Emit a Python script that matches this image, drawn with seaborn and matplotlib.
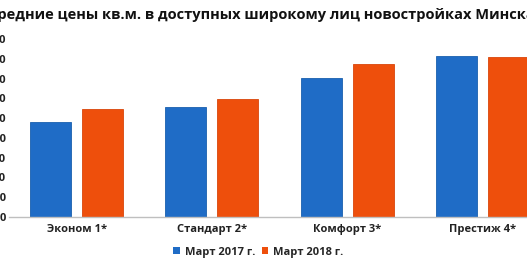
import matplotlib
matplotlib.use("Agg")
import matplotlib.pyplot as plt
import seaborn as sns
import pandas as pd
from matplotlib.patches import Patch

categories = ["Эконом 1*", "Стандарт 2*", "Комфорт 3*", "Престиж 4*"]
series_names = ["Март 2017 г.", "Март 2018 г."]
values_2017 = [965, 1110, 1405, 1633]
values_2018 = [1097, 1192, 1549, 1613]
y_ticks = [0, 200, 400, 600, 800, 1000, 1200, 1400, 1600, 1800]
title = "Средние цены кв.м. в доступных широкому лиц новостройках Минска"

df = pd.DataFrame({
    "cat": categories * 2,
    "series": [series_names[0]] * 4 + [series_names[1]] * 4,
    "value": values_2017 + values_2018,
})

sns.set_theme(style="white")
plt.rcParams['font.family'] = ['Open Sans', 'DejaVu Sans']

W, H = 527, 267
fig = plt.figure(figsize=(W / 100, H / 100), dpi=100)
ax = fig.add_axes([9 / W, (H - 217) / H, 541 / W, 178 / H])

palette = {series_names[0]: "#1f6cc6", series_names[1]: "#ee4f0c"}
sns.barplot(data=df, x="cat", y="value", hue="series", palette=palette,
            width=0.77, gap=0.21, saturation=1, ax=ax, legend=False,
            edgecolor="none")
for p, c in zip(ax.patches, ["#1a5fae"] * 4 + ["#d9460a"] * 4):
    p.set_edgecolor(c)
    p.set_linewidth(0.6)

ax.set_xlim(-0.5, 3.5)
ax.set_ylim(0, 1800)
ax.set_yticks(y_ticks)
ax.set_yticklabels([str(v) for v in y_ticks], fontsize=8, fontweight="bold", color="#222222")
ax.tick_params(axis="y", length=0, pad=2)
ax.tick_params(axis="x", length=0, pad=5)
for lbl in ax.get_xticklabels():
    lbl.set_fontsize(8)
    lbl.set_fontweight("bold")
    lbl.set_color("#222222")
ax.set_xlabel("")
ax.set_ylabel("")
for s in ["top", "right", "left"]:
    ax.spines[s].set_visible(False)
ax.spines["bottom"].set_color("#bfbfbf")
ax.spines["bottom"].set_linewidth(1)

fig.text(-0.022, 1 - 15 / H, title, fontsize=10.5, fontweight="bold", color="#111111",
         ha="left", va="center")

handles = [Patch(facecolor=palette[s], edgecolor="none") for s in series_names]
fig.legend(handles, series_names, loc="center", bbox_to_anchor=(0.49, 1 - 252 / H),
           ncol=2, frameon=False, prop={"size": 8, "weight": "bold"},
           handlelength=0.6, handleheight=0.6, handletextpad=0.4, columnspacing=0.6)

fig.savefig("out.png", dpi=100)
